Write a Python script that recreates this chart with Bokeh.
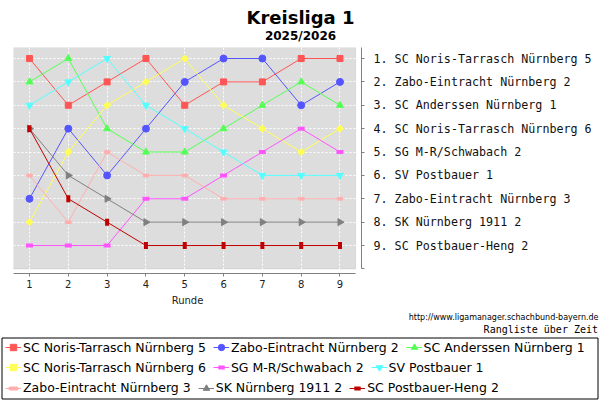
import math
from bokeh.plotting import figure
from bokeh.layouts import column
from bokeh.models import (Range1d, FixedTicker, BoxAnnotation, Legend, LegendItem)
from bokeh.core.properties import value
from bokeh.embed import file_html
from bokeh.resources import INLINE

# ---------------- data ----------------
title_text = "Kreisliga 1"
season_text = "2025/2026"
url_text = "http://www.ligamanager.schachbund-bayern.de"
caption_text = "Rangliste über Zeit"
x_label = "Runde"

rounds = [1, 2, 3, 4, 5, 6, 7, 8, 9]
ranks = [1, 2, 3, 4, 5, 6, 7, 8, 9, 10]

teams = [
    "SC Noris-Tarrasch Nürnberg 5",
    "Zabo-Eintracht Nürnberg 2",
    "SC Anderssen Nürnberg 1",
    "SC Noris-Tarrasch Nürnberg 6",
    "SG M-R/Schwabach 2",
    "SV Postbauer 1",
    "Zabo-Eintracht Nürnberg 3",
    "SK Nürnberg 1911 2",
    "SC Postbauer-Heng 2",
]

noris5 = [1, 3, 2, 1, 3, 2, 2, 1, 1]
zabo2 = [7, 4, 6, 4, 2, 1, 1, 3, 2]
anderssen1 = [2, 1, 4, 5, 5, 4, 3, 2, 3]
noris6 = [8, 5, 3, 2, 1, 3, 4, 5, 4]
schwabach2 = [9, 9, 9, 7, 7, 6, 5, 4, 5]
postbauer1 = [3, 2, 1, 3, 4, 5, 6, 6, 6]
zabo3 = [6, 8, 5, 6, 6, 7, 7, 7, 7]
sk1911_2 = [4, 6, 7, 8, 8, 8, 8, 8, 8]
postbauerheng2 = [4, 7, 8, 9, 9, 9, 9, 9, 9]

series = [noris5, zabo2, anderssen1, noris6, schwabach2, postbauer1, zabo3, sk1911_2, postbauerheng2]

colors = ["#FF5555", "#5555FF", "#55FF55", "#FFFF55", "#FF55FF", "#55FFFF", "#FFAFAF", "#808080", "#C00000"]

# marker styles (JFreeChart default shape sequence)
marker_styles = [
    dict(marker="square", size=6, angle=0.0),
    dict(marker="circle", size=7, angle=0.0),
    dict(marker="triangle", size=7, angle=0.0),
    dict(marker="square", size=5, angle=math.pi / 4),
    dict(marker="dash", size=7, angle=0.0, line_width=4),
    dict(marker="inverted_triangle", size=7, angle=0.0),
    dict(marker="dash", size=3, angle=0.0, line_width=4, line_cap="round"),
    dict(marker="triangle", size=7, angle=-math.pi / 2),
    dict(marker="dash", size=7, angle=math.pi / 2, line_width=4),
]

legend_rows = [[0, 1, 2], [3, 4, 5], [6, 7, 8]]

FONT = "DejaVu Sans"
MONO = "DejaVu Sans Mono"

W = 600
TOP_H = 47
MAIN_H = 262
BOT_H = 91


def blank_fig(h):
    f = figure(width=W, height=h, output_backend="svg", toolbar_location=None, title=None,
               x_range=Range1d(0, W), y_range=Range1d(h, 0),
               x_axis_location=None, y_axis_location=None,
               min_border=0, min_border_left=0, min_border_right=0,
               min_border_top=0, min_border_bottom=0,
               outline_line_color=None, background_fill_color="white",
               border_fill_color="white", frame_align=False)
    f.xgrid.visible = False
    f.ygrid.visible = False
    return f


# ---------------- title figure ----------------
top = blank_fig(TOP_H)
top.text(x=[300], y=[17], text=[title_text], text_align="center", text_baseline="alphabetic",
         text_font=value(FONT), text_font_style="bold", text_font_size="18px", text_color="black")
top.text(x=[300], y=[35.5], text=[season_text], text_align="center", text_baseline="alphabetic",
         text_font=value(FONT), text_font_style="bold", text_font_size="12px", text_color="black")

# ---------------- main chart ----------------
p = figure(
    width=W, height=MAIN_H, output_backend="svg", toolbar_location=None, title=None,
    x_range=Range1d(0.588, 9.554), y_range=Range1d(10.197, 0.529),
    y_axis_location="right",
    min_border_left=13, min_border_right=239, min_border_top=0, min_border_bottom=36,
    background_fill_color="white", border_fill_color="white", outline_line_color=None,
    frame_align=False,
)

panel = BoxAnnotation(left=0.588, right=9.40, top=0.529, bottom=10.0,
                      fill_color="#DDDDDD", fill_alpha=1.0,
                      line_color="#A8A8A8", line_width=1, level="image")
p.add_layout(panel)

p.xgrid.ticker = FixedTicker(ticks=rounds)
p.ygrid.ticker = FixedTicker(ticks=ranks[:-1])
for g in (p.xgrid, p.ygrid):
    g.grid_line_color = "white"
    g.grid_line_dash = "2 2"
    g.grid_line_width = 1

xa = p.xaxis[0]
xa.ticker = FixedTicker(ticks=rounds)
xa.bounds = (0.588, 9.40)
xa.axis_line_color = "#808080"
xa.major_tick_line_color = "#808080"
xa.major_tick_out = 3
xa.major_tick_in = 0
xa.minor_tick_line_color = None
xa.major_label_text_font = FONT
xa.major_label_text_font_size = "10px"
xa.major_label_text_color = "#222222"
xa.major_label_standoff = 3
xa.axis_label = x_label
xa.axis_label_text_font = FONT
xa.axis_label_text_font_size = "10px"
xa.axis_label_text_font_style = "normal"
xa.axis_label_text_color = "#222222"
xa.axis_label_standoff = 4

final_order = sorted(range(len(teams)), key=lambda i: series[i][-1])
overrides = {r: "" for r in ranks}
for i in final_order:
    overrides[series[i][-1]] = f"{series[i][-1]}. {teams[i]}"
ya = p.yaxis[0]
ya.ticker = FixedTicker(ticks=ranks)
ya.major_label_overrides = overrides
ya.bounds = (0.529, 10.0)
ya.axis_line_color = "#808080"
ya.major_tick_line_color = "#808080"
ya.major_tick_out = 3
ya.major_tick_in = 0
ya.minor_tick_line_color = None
ya.major_label_text_font = MONO
ya.major_label_text_font_size = "11.7px"
ya.major_label_text_color = "#111111"
ya.major_label_standoff = 9

for name, vals, col, ms in zip(teams, series, colors, marker_styles):
    p.line(rounds, vals, line_color=col, line_width=1)
    kw = dict(ms)
    lw = kw.pop("line_width", 1)
    p.scatter(rounds, vals, fill_color=col, line_color=col, line_width=lw, **kw)

# ---------------- legend / captions ----------------
bot = blank_fig(BOT_H)
bot.text(x=[598], y=[7.7], text=[url_text], text_align="right", text_baseline="middle",
         text_font=value(FONT), text_font_size="8px", text_color="black")
bot.text(x=[597.5], y=[20.3], text=[caption_text], text_align="right", text_baseline="middle",
         text_font=value(MONO), text_font_size="10px", text_color="black")
bot.quad(left=[1.5], right=[597.5], top=[28.5], bottom=[89.5],
         fill_alpha=0.0, line_color="black", line_width=1)

# legend-only renderers (hidden in this panel, they only provide legend glyphs)
items = []
for name, vals, col, ms in zip(teams, series, colors, marker_styles):
    lr = bot.line(rounds, vals, line_color=col, line_width=1, visible=False)
    kw = dict(ms)
    lw = kw.pop("line_width", 1)
    sr = bot.scatter(rounds, vals, fill_color=col, line_color=col, line_width=lw,
                     visible=False, **kw)
    items.append(LegendItem(label=name, renderers=[lr, sr]))

row_centers = [38.3, 58.3, 78.6]
for row, yc in zip(legend_rows, row_centers):
    lg = Legend(items=[items[k] for k in row], orientation="horizontal",
                location=(5, BOT_H - (yc + 8)),
                padding=0, margin=0, spacing=7,
                glyph_width=16, glyph_height=16, label_height=16,
                label_standoff=2,
                label_text_font=FONT, label_text_font_size="12.5px",
                label_text_color="black",
                inactive_fill_alpha=0.0,
                border_line_color=None, background_fill_alpha=0.0)
    bot.add_layout(lg)

layout = column(top, p, bot, spacing=0)
open("out.html", "w").write(file_html(layout, INLINE))
